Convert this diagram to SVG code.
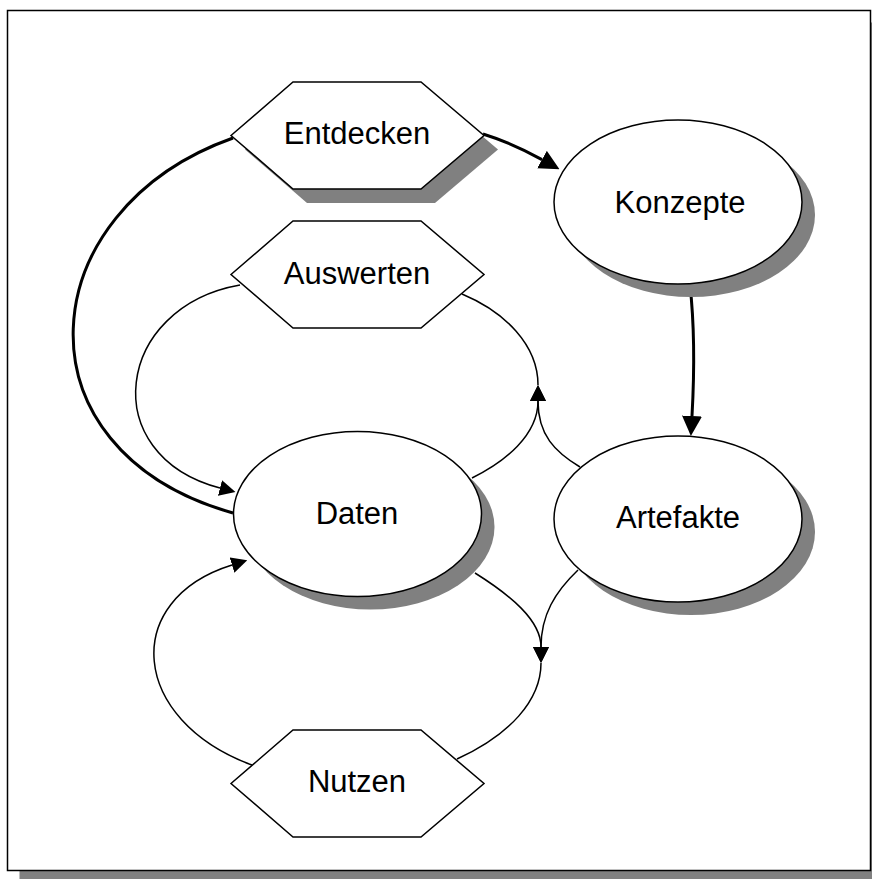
<svg xmlns="http://www.w3.org/2000/svg" width="872" height="879" viewBox="0 0 872 879">
  <style>
    .shadow { fill: #808080; stroke: none; }
    .node { fill: #ffffff; stroke: #000000; stroke-width: 1.5; }
    .label { font-family: "Liberation Sans", Arial, sans-serif; font-size: 31px; fill: #000000; text-anchor: middle; }
    .thin { fill: none; stroke: #000000; stroke-width: 1.5; }
    .thick { fill: none; stroke: #000000; stroke-width: 3; }
  </style>
  <defs>
    <marker id="arrowBig" viewBox="0 0 20 20" refX="0" refY="10" markerWidth="20" markerHeight="20" markerUnits="userSpaceOnUse" orient="auto">
      <path d="M0,0 L20,10 L0,20 z" fill="#000000"/>
    </marker>
    <marker id="arrowSmall" viewBox="0 0 16 16" refX="0" refY="8" markerWidth="16" markerHeight="16" markerUnits="userSpaceOnUse" orient="auto">
      <path d="M0,0 L16,8 L0,16 z" fill="#000000"/>
    </marker>
    <polygon id="hex" points="-126,0 -64,-53.5 64,-53.5 127,0 64,53.5 -64,53.5"/>
  </defs>

  <!-- page frame with drop shadow -->
  <g id="frame">
    <rect class="shadow" x="19.5" y="22.5" width="863" height="860"/>
    <rect x="7.5" y="10.5" width="863" height="860" fill="#ffffff" stroke="#000000" stroke-width="1.5"/>
  </g>

  <!-- connectors -->
  <g id="connectors">
    <path class="thick" d="M483,134 Q512,143 542,159.6" marker-end="url(#arrowBig)"/>
    <path class="thick" d="M690,285 C695,330 694,380 692,416" marker-end="url(#arrowBig)"/>
    <path class="thick" d="M233,138 C30,210 10,450 233,513"/>
    <path class="thin" d="M240,285 C115,307 95,455 220,488" marker-end="url(#arrowSmall)"/>
    <path class="thin" d="M252,765 C130,720 120,600 232,565" marker-end="url(#arrowSmall)"/>
    <path class="thin" d="M472,478 C505,462 538,435 538,401" marker-end="url(#arrowSmall)"/>
    <path class="thin" d="M580,467 C555,452 538,435 538,401" marker-end="url(#arrowSmall)"/>
    <path class="thin" d="M538,385 C538,345 505,312 462,294"/>
    <path class="thin" d="M475,573 C510,595 541,620 541,647" marker-end="url(#arrowSmall)"/>
    <path class="thin" d="M578,570 C555,592 541,615 541,647" marker-end="url(#arrowSmall)"/>
    <path class="thin" d="M541,663 C541,700 510,735 457,759"/>
  </g>

  <!-- nodes -->
  <g id="entdecken">
    <use href="#hex" class="shadow" x="371" y="149.5"/>
    <use href="#hex" class="node" x="357" y="135.5"/>
    <text class="label" x="357" y="144">Entdecken</text>
  </g>
  <g id="konzepte">
    <ellipse class="shadow" cx="691" cy="215" rx="124" ry="82"/>
    <ellipse class="node" cx="678" cy="202" rx="124" ry="82"/>
    <text class="label" x="680" y="213">Konzepte</text>
  </g>
  <g id="auswerten">
    <use href="#hex" class="node" x="357" y="274.5"/>
    <text class="label" x="357" y="283.5">Auswerten</text>
  </g>
  <g id="daten">
    <ellipse class="shadow" cx="370.5" cy="527" rx="124" ry="82.5"/>
    <ellipse class="node" cx="357.5" cy="514" rx="124" ry="82.5"/>
    <text class="label" x="357" y="524">Daten</text>
  </g>
  <g id="artefakte">
    <ellipse class="shadow" cx="691" cy="532" rx="124" ry="83"/>
    <ellipse class="node" cx="678" cy="519" rx="124" ry="83"/>
    <text class="label" x="678" y="527.5">Artefakte</text>
  </g>
  <g id="nutzen">
    <use href="#hex" class="node" x="357" y="783.5"/>
    <text class="label" x="357" y="792">Nutzen</text>
  </g>
</svg>
